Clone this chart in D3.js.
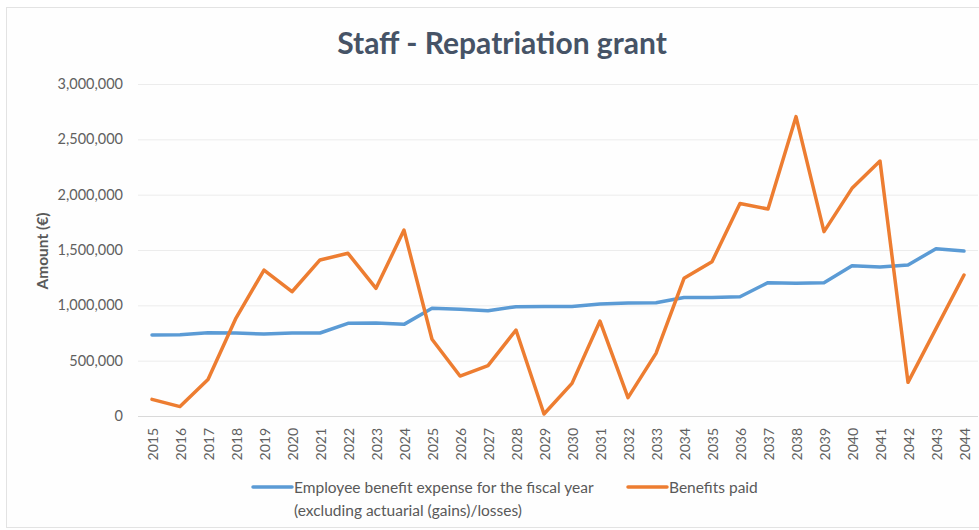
<!DOCTYPE html>
<html>
<head>
<meta charset="utf-8">
<script src="https://cdn.jsdelivr.net/npm/d3@7"></script>
<style>
  html, body { margin: 0; padding: 0; background: #ffffff; }
  svg { display: block; }
</style>
</head>
<body>
<svg id="chart" width="979" height="530"></svg>
<script>
const years = ["2015","2016","2017","2018","2019","2020","2021","2022","2023","2024",
  "2025","2026","2027","2028","2029","2030","2031","2032","2033","2034",
  "2035","2036","2037","2038","2039","2040","2041","2042","2043","2044"];
const expense = [732000, 735000, 753000, 750000, 740000, 750000, 750000, 837000, 840000, 828000,
  973000, 965000, 952000, 988000, 990000, 990000, 1012000, 1020000, 1024000, 1070000,
  1070000, 1078000, 1205000, 1200000, 1205000, 1358000, 1346000, 1364000, 1512000, 1490000];
const paid = [150000, 85000, 330000, 885000, 1319000, 1123000, 1410000, 1470000, 1154000, 1680000,
  693000, 361000, 455000, 777000, 18000, 295000, 858000, 166000, 566000, 1244000,
  1394000, 1920000, 1870000, 2705000, 1666000, 2057000, 2304000, 304000, 790000, 1274000];
const yTicks = [0, 500000, 1000000, 1500000, 2000000, 2500000, 3000000];
const seriesNames = ["Employee benefit expense for the fiscal year", "Benefits paid"];
const seriesNameLine2 = "(excluding actuarial (gains)/losses)";
const titleText = "Staff - Repatriation grant";
const yTitle = "Amount (€)";

const svg = d3.select("#chart");
const FONT = "Lato, 'Open Sans', sans-serif";

// chart border
svg.append("rect").attr("x", 6.5).attr("y", 7.5).attr("width", 990).attr("height", 520)
  .attr("fill", "#fefefe").attr("stroke", "#e3e3e3").attr("stroke-width", 1);

const x = d3.scalePoint().domain(years).range([138, 978]).padding(0.5);
const y = d3.scaleLinear().domain([0, 3000000]).range([416, 84]);

// gridlines
svg.append("g").selectAll("line").data(yTicks.filter(d => d > 0)).join("line")
  .attr("x1", 138).attr("x2", 978)
  .attr("y1", d => y(d) + 0.5).attr("y2", d => y(d) + 0.5)
  .attr("stroke", "#ececec").attr("stroke-width", 1);

// y axis
const yAxis = d3.axisLeft(y).tickValues(yTicks).tickSize(0).tickPadding(0)
  .tickFormat(d3.format(","));
const gy = svg.append("g").attr("transform", "translate(123,0)").call(yAxis);
gy.select(".domain").remove();
gy.selectAll("text").attr("font-family", FONT).attr("font-size", 14.5).attr("fill", "#606060");

// x axis
const xAxis = d3.axisBottom(x).tickSize(0).tickPadding(0);
const gx = svg.append("g").attr("transform", "translate(0,416)").call(xAxis);
gx.select(".domain").attr("stroke", "#d9d9d9").attr("d", "M138,0.5H978");
gx.selectAll("text")
  .attr("font-family", FONT).attr("font-size", 14).attr("fill", "#606060")
  .attr("transform", "rotate(-90)")
  .attr("text-anchor", "end")
  .attr("x", -12).attr("y", 1).attr("dy", "0.35em");

// y title
svg.append("text").attr("transform", "translate(48,251) rotate(-90)")
  .attr("text-anchor", "middle").attr("font-family", FONT).attr("font-size", 15.5)
  .attr("font-weight", 700).attr("fill", "#595959").text(yTitle);

// title
svg.append("text").attr("x", 502).attr("y", 54).attr("text-anchor", "middle")
  .attr("font-family", FONT).attr("font-size", 30).attr("font-weight", 700)
  .attr("fill", "#465366").text(titleText);

// lines
const line = d3.line().x((d, i) => x(years[i])).y(d => y(d));
svg.append("path").datum(expense).attr("d", line).attr("fill", "none")
  .attr("stroke", "#5B9BD5").attr("stroke-width", 3.5).attr("stroke-linejoin", "round").attr("stroke-linecap", "round");
svg.append("path").datum(paid).attr("d", line).attr("fill", "none")
  .attr("stroke", "#ED7D31").attr("stroke-width", 3.5).attr("stroke-linejoin", "round").attr("stroke-linecap", "round");

// legend
const lg = svg.append("g");
lg.append("line").attr("x1", 253).attr("x2", 292).attr("y1", 487).attr("y2", 487)
  .attr("stroke", "#5B9BD5").attr("stroke-width", 3.5).attr("stroke-linecap", "round");
const t1 = lg.append("text").attr("x", 294).attr("y", 493).attr("font-family", FONT)
  .attr("font-size", 15.5).attr("fill", "#595959");
t1.append("tspan").attr("x", 294).text(seriesNames[0]);
t1.append("tspan").attr("x", 294).attr("dy", 23).text(seriesNameLine2);
lg.append("line").attr("x1", 628).attr("x2", 667).attr("y1", 487).attr("y2", 487)
  .attr("stroke", "#ED7D31").attr("stroke-width", 3.5).attr("stroke-linecap", "round");
lg.append("text").attr("x", 669).attr("y", 493).attr("font-family", FONT)
  .attr("font-size", 15.5).attr("fill", "#595959").text(seriesNames[1]);
</script>
</body>
</html>
